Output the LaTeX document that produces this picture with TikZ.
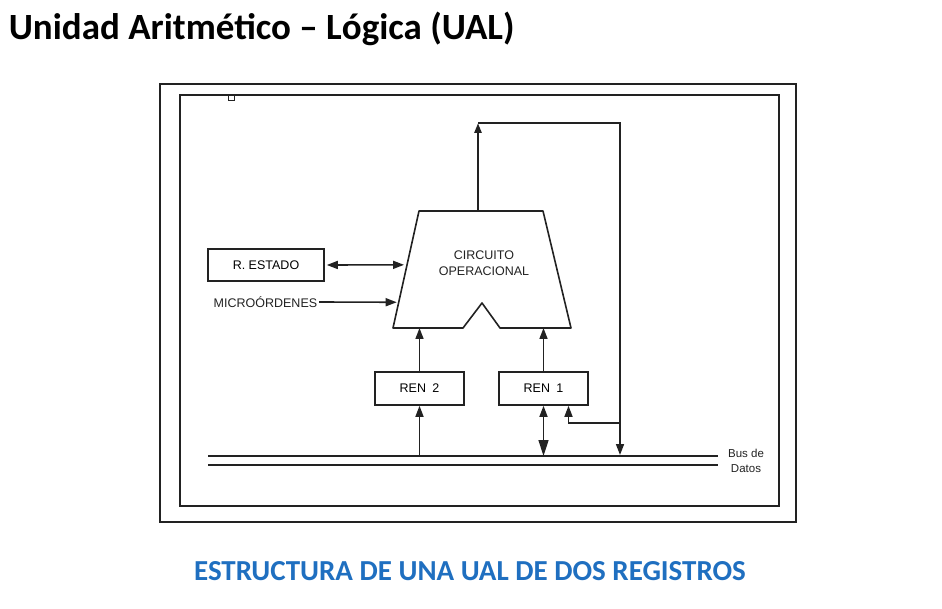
\documentclass[tikz,border=0pt]{standalone}
\usepackage{fontspec}
\setmainfont{Carlito}
\newfontfamily\diagfont{Liberation Sans}
\usetikzlibrary{calc,arrows.meta}
\definecolor{capblue}{HTML}{1F6FC0}
\definecolor{ink}{HTML}{222222}

\begin{document}
\begin{tikzpicture}[x=1pt,y=-1pt, line width=1.6pt, draw=ink,
	reg/.style={draw=ink, line width=1.6pt, minimum width=89pt, minimum height=33pt, inner sep=0pt, font=\diagfont\fontsize{12.5}{13}\selectfont},
	lbl/.style={text=ink, align=center, inner sep=1pt, font=\diagfont\fontsize{12.5}{14}\selectfont},
	con/.style={draw=ink, line width=1.6pt, -{Triangle[length=11pt,width=8pt]}}]
	\useasboundingbox (0,0) rectangle (942,609);
	\node[anchor=base west, inner sep=0pt, font=\bfseries\fontsize{37}{44}\selectfont] (title) at (8,40) {Unidad Aritmético – Lógica (UAL)};
	\node[anchor=base, inner sep=0pt, text=capblue, font=\bfseries\fontsize{29}{34}\selectfont] (caption) at (470,580) {ESTRUCTURA DE UNA UAL DE DOS REGISTROS};
	\draw[ink] (160,84) rectangle (796,522);
	\draw[ink] (180,95) rectangle (779,506);
	\draw[ink, line width=1pt] (228,95) rectangle (234,101);
	\coordinate (TL) at (419,211);
	\coordinate (TR) at (543,211);
	\coordinate (BR) at (571,328);
	\coordinate (NR) at (500,328);
	\coordinate (NP) at (482,303);
	\coordinate (NL) at (463,328);
	\coordinate (BL) at (393,328);
	\draw[ink, line join=round] (TL) -- (TR) -- (BR) -- (NR) -- (NP) -- (NL) -- (BL) -- cycle;
	\node[lbl, font=\diagfont\fontsize{12.5}{16}\selectfont] (CO) at (484,263) {CIRCUITO\\OPERACIONAL};
	\node[reg, minimum width=116pt, minimum height=32pt] (RE) at (266,265) {R. ESTADO};
	\node[lbl, anchor=east] (MO) at (319,302) {MICROÓRDENES};
	\node[reg] (R2) at (419.5,388.5) {REN\enspace 2};
	\node[reg] (R1) at (543.5,388.5) {REN\enspace 1};
	\node[lbl, font=\diagfont\fontsize{11.5}{15}\selectfont] (BUS) at (746,461) {Bus de\\Datos};
	\coordinate (B1L) at (208,456);
	\coordinate (B1R) at (718,456);
	\coordinate (B2L) at (208,465);
	\coordinate (B2R) at (718,465);
	\draw[ink] (B1L) -- (B1R);
	\draw[ink] (B2L) -- (B2R);
	\coordinate (E1) at ($(TL)!0.46!(BL)$);
	\coordinate (E2) at ($(TL)!0.78!(BL)$);
	\coordinate (OUT) at (478,211);
	\coordinate (UP) at (478,123);
	\coordinate (DN) at (620,455);
	\coordinate (FB) at (620,423);
	\draw[con, {Triangle[length=11pt,width=8pt]}-{Triangle[length=11pt,width=8pt]}] ([xshift=2pt]RE.east) -- ([xshift=-3pt]E1);
	\draw[con] (MO.east) -- ([xshift=-2pt]E2);
	\draw[con, line width=2.6pt, -{Triangle[length=10pt,width=7pt]}] (OUT) -- (UP);
	\draw[con] (UP) -| (DN);
	\draw[con] (R2.north) -- (R2.north |- BL);
	\draw[con] (R1.north) -- (R1.north |- BL);
	\draw[con] (R2.south |- B1L) -- (R2.south);
	\draw[con, {Triangle[length=11pt,width=8pt]}-{Triangle[length=16pt,width=10pt]}] (R1.south) -- (R1.south |- B1L);
	\draw[con] (FB) -| ([xshift=25pt]R1.south);
\end{tikzpicture}
\end{document}
